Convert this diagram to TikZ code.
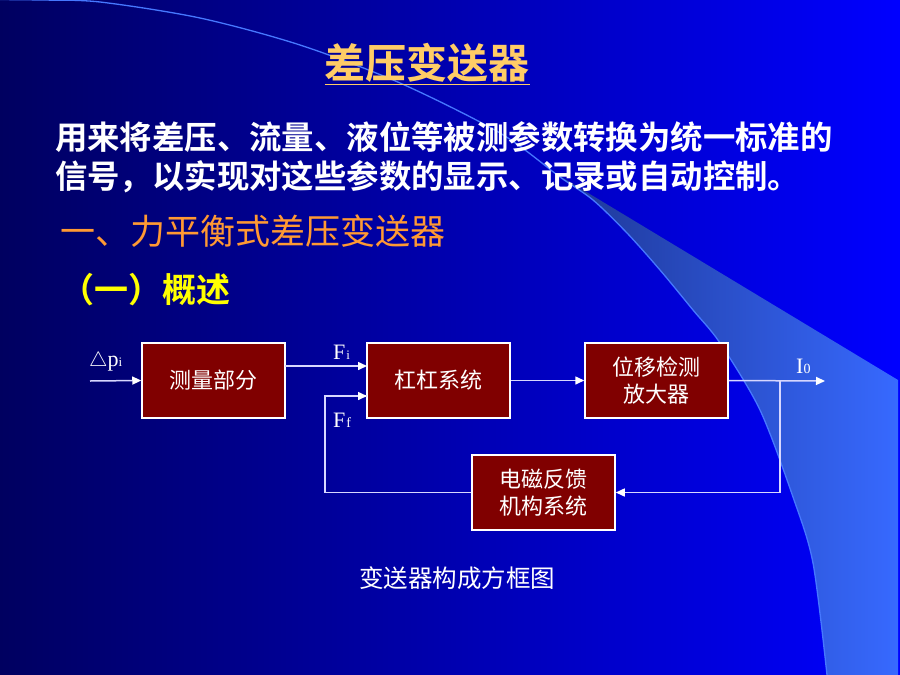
\documentclass[tikz,border=0pt]{standalone}
\usepackage{fontspec}
\setmainfont{Liberation Serif}
\newfontfamily\cjk[BoldFont={Noto Sans CJK SC Bold}]{Noto Sans CJK SC}
\usetikzlibrary{arrows.meta,shadings}
\definecolor{bgL}{RGB}{0,0,96}
\definecolor{bgM}{RGB}{0,0,200}
\definecolor{bgR}{RGB}{0,0,255}
\definecolor{wedgeL}{RGB}{30,55,150}
\definecolor{wedgeR}{RGB}{55,105,255}
\definecolor{swline}{RGB}{70,120,255}
\definecolor{titlecol}{RGB}{255,204,102}
\definecolor{headcol}{RGB}{255,153,51}
\definecolor{subcol}{RGB}{255,255,0}
\definecolor{boxred}{RGB}{128,0,0}
\definecolor{linecol}{RGB}{215,215,255}
\tikzset{
  blockbox/.style={draw=white, line width=1.5pt, fill=boxred, minimum width=143pt, minimum height=75pt,
    inner sep=0pt, text=white, align=center, font=\cjk\fontsize{22}{27}\selectfont},
  conn/.style={draw=linecol, line width=1.5pt},
  arr/.style={conn, -{Triangle[length=9pt,width=8pt,color=white,fill=white]}},
  sig/.style={text=white, inner sep=0pt, font=\fontsize{22}{24}\selectfont},
}
\begin{document}
\begin{tikzpicture}[x=1pt,y=-1pt]
\useasboundingbox (0,0) rectangle (900,675);
% background
\shade[left color=bgL, middle color=bgM, right color=bgR] (0,0) rectangle (900,675);
% wedge
\shade[left color=wedgeL, right color=wedgeR]
  (560,176) -- (898,380) -- (898,675) -- (827,675)
  -- plot[smooth] coordinates {(827,675) (813,563) (793,497) (760,410) (720,343) (693,310) (660,270) (627,233) (593,200) (560,177)} -- cycle;
% swoosh line
\draw[swline, line width=1.3pt] plot[smooth] coordinates {(-5,-0.5) (40,0) (100,2) (200,18) (300,45) (400,83) (500,133) (560,177) (593,200) (627,233) (660,270) (693,310) (720,343) (760,410) (793,497) (813,563) (827,675)};
% texts
\node[text=titlecol, inner sep=0pt, font=\cjk\bfseries\fontsize{41}{45}\selectfont] (title) at (427,64) {\underline{差压变送器}};
\node[text=white, anchor=west, inner sep=0pt, font=\cjk\bfseries\fontsize{32.4}{40}\selectfont] (l1) at (55,137) {用来将差压、流量、液位等被测参数转换为统一标准的};
\node[text=white, anchor=west, inner sep=0pt, font=\cjk\bfseries\fontsize{32.4}{40}\selectfont] (l2) at (55,177) {信号，以实现对这些参数的显示、记录或自动控制。};
\node[text=headcol, anchor=west, inner sep=0pt, font=\cjk\fontsize{35}{40}\selectfont] (h1) at (60,231) {一、力平衡式差压变送器};
\node[text=subcol, anchor=west, inner sep=0pt, font=\cjk\bfseries\fontsize{34}{40}\selectfont] (h2) at (60,290) {（一）概述};
% blocks
\node[blockbox] (meas) at (213.5,380.5) {测量部分};
\node[blockbox] (lever) at (438.5,380.5) {杠杠系统};
\node[blockbox] (amp) at (656.5,380.5) {位移检测\\放大器};
\node[blockbox] (fb) at (543.5,492.5) {电磁反馈\\机构系统};
% coordinates
\coordinate (inp) at (90,381);
\coordinate (mout) at (285,366);
\coordinate (fiin) at (367,366);
\coordinate (fcorner) at (325,492.5);
\coordinate (ffin) at (367,396);
\coordinate (jn) at (780,381);
\coordinate (outp) at (825,381);
% connectors
\draw[arr] (inp) -- (meas.west);
\draw[arr] (mout) -- (fiin);
\draw[arr] (lever.east) -- (amp.west);
\draw[arr] (amp.east) -- (outp);
\draw[arr] (jn) |- (fb.east);
\draw[conn] (fb.west) -- (fcorner) |- (ffin);
\draw[arr] (fcorner |- ffin) -- (ffin);
% labels
\node[sig, anchor=south west] (dp) at (89,371) {$\triangle$p{\fontsize{13}{14}\selectfont i}};
\node[sig, anchor=south west] (fi) at (333,360) {F{\kern1pt\fontsize{13}{14}\selectfont i}};
\node[sig, anchor=south west] (ff) at (333,428) {F{\kern1pt\fontsize{14}{14}\selectfont f}};
\node[sig, anchor=south west] (io) at (796,374) {I{\fontsize{14}{14}\selectfont 0}};
\node[text=white, inner sep=0pt, font=\cjk\fontsize{24.5}{28}\selectfont] (cap) at (457,578) {变送器构成方框图};
\end{tikzpicture}
\end{document}
